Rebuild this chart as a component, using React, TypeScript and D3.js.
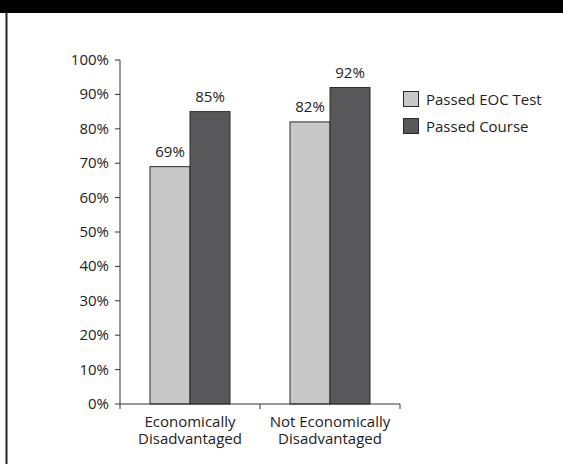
import React from "react";
import * as d3 from "d3";

const categories = [["Economically", "Disadvantaged"], ["Not Economically", "Disadvantaged"]];
const seriesNames = ["Passed EOC Test", "Passed Course"];
const passedEOC = [69, 82];
const passedCourse = [85, 92];
const yTicks = [0, 10, 20, 30, 40, 50, 60, 70, 80, 90, 100];
const colors = ["#c8c8c8", "#58585a"];

export default function App() {
  const W = 563, H = 464;
  const x0 = 120, x1 = 400, yTop = 60, yBot = 404;
  const font = "'Open Sans', sans-serif";
  const fs = 15;
  const x = d3.scaleBand<number>().domain([0, 1]).range([x0, x1]);
  const y = d3.scaleLinear().domain([0, 100]).range([yBot, yTop]);
  const barW = 40;
  const series = [passedEOC, passedCourse];
  return (
    <svg width={W} height={H} style={{ position: "absolute", left: 0, top: 0 }}>
      <rect x={0} y={0} width={W} height={H} fill="#fff" />
      <rect x={0} y={0} width={W} height={13} fill="#000" />
      <line x1={6.5} y1={13} x2={6.5} y2={H} stroke="#222" strokeWidth={2} />
      {series.map((vals, s) =>
        vals.map((v, i) => {
          const cx = (x(i) as number) + x.bandwidth() / 2;
          const bx = cx - barW + s * barW;
          return (
            <g key={`${s}-${i}`}>
              <rect x={bx} y={y(v)} width={barW} height={yBot - y(v)} fill={colors[s]} stroke="#2a2a2a" strokeWidth={1} />
              <text x={bx + barW / 2} y={y(v) - 10} textAnchor="middle" fontFamily={font} fontSize={fs} fill="#222">{v}%</text>
            </g>
          );
        })
      )}
      <line x1={x0} y1={yTop} x2={x0} y2={yBot} stroke="#333" strokeWidth={1} />
      <line x1={x0} y1={yBot} x2={x1} y2={yBot} stroke="#333" strokeWidth={1} />
      {yTicks.map((t) => (
        <g key={t}>
          <line x1={x0 - 5} y1={y(t)} x2={x0} y2={y(t)} stroke="#333" />
          <text x={x0 - 11} y={y(t) + 5} textAnchor="end" fontFamily={font} fontSize={fs} fill="#222">{t}%</text>
        </g>
      ))}
      {[0, 1, 2].map((k) => {
        const tx = x0 + k * x.bandwidth();
        return <line key={k} x1={tx} y1={yBot} x2={tx} y2={yBot + 5} stroke="#333" />;
      })}
      {categories.map((lines, i) => {
        const cx = (x(i) as number) + x.bandwidth() / 2;
        return lines.map((l, j) => (
          <text key={`${i}-${j}`} x={cx} y={427 + j * 17} textAnchor="middle" fontFamily={font} fontSize={fs} fill="#222">{l}</text>
        ));
      })}
      {seriesNames.map((n, s) => (
        <g key={n}>
          <rect x={403.5} y={91.5 + s * 27} width={15} height={15} fill={colors[s]} stroke="#2a2a2a" />
          <text x={426} y={105 + s * 27} fontFamily={font} fontSize={fs} fill="#222">{n}</text>
        </g>
      ))}
    </svg>
  );
}
